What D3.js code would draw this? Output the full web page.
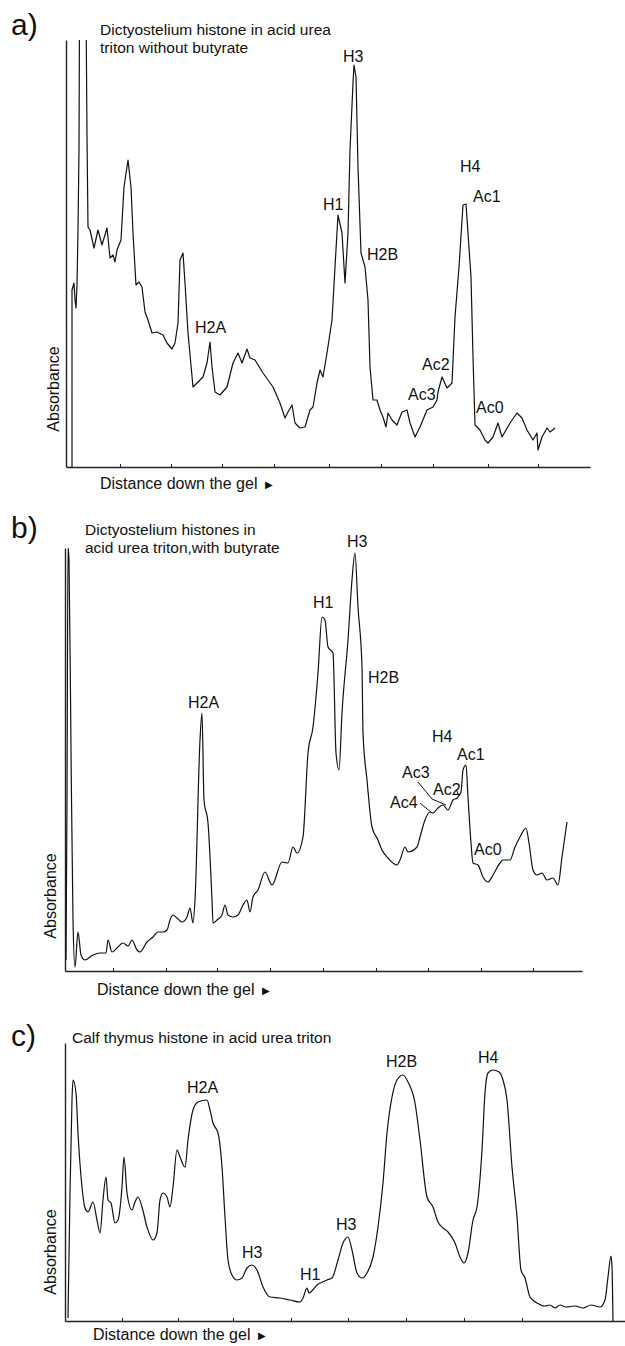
<!DOCTYPE html>
<html>
<head>
<meta charset="utf-8">
<script src="https://cdn.jsdelivr.net/npm/d3@7"></script>
<style>
  body { margin: 0; background: #fff; }
  svg text { font-family: "Liberation Sans", Arial, sans-serif; fill: #111; }
</style>
</head>
<body>
<svg class="canvas" width="625" height="1346"></svg>
<script>
// densitometer scans, distance / absorbance in arbitrary units
const distA = [6,6,8,9,10,11,12,13,14,19,21,22,24,28,32,36,41,44,47,49,51,55,58,62,65,67,70,73,76,79,82,86,91,97,101,106,109,112,114,117,119,122,127,131,137,141,144,146,149,154,161,167,172,176,181,184,189,197,207,214,219,222,226,229,234,239,244,247,251,254,257,261,266,269,272,276,279,282,284,287,288,290,292,295,299,302,304,307,311,314,317,320,322,326,331,336,341,344,349,354,361,367,371,372,376,381,386,389,393,397,400,402,405,407,409,414,419,422,427,432,436,444,451,456,461,467,471,472,476,481,484,489];
const absA = [0,177,184,167,159,182,237,317,600,600,330,240,237,219,237,222,239,209,212,205,217,227,280,307,280,234,182,185,180,155,147,134,135,132,124,118,124,144,207,214,184,134,80,84,90,104,125,100,75,72,80,104,114,104,118,109,107,94,80,64,49,55,62,44,39,40,57,60,84,97,90,114,147,200,252,234,184,234,317,384,402,390,300,214,200,167,100,67,67,57,50,40,54,47,42,55,57,44,30,40,57,60,67,75,90,79,84,150,200,262,263,234,190,110,42,37,27,24,30,44,30,44,54,49,37,27,34,17,30,39,35,39];

const distB = [1,2,3,4,6,8,10,13,16,20,28,35,41,43,47,52,58,63,67,72,75,82,88,93,98,102,105,108,112,117,122,125,128,130,135,137,139,143,147,148,152,157,160,163,168,173,178,182,185,188,193,200,207,217,223,228,232,238,243,248,253,257,260,263,268,271,274,277,283,287,290,293,297,298,302,307,313,317,323,332,335,340,343,352,355,360,365,368,373,378,383,388,392,396,398,401,403,406,408,413,418,423,428,435,438,445,450,455,461,464,468,472,477,482,488,493,497,502];
const absB = [11,171,424,411,221,51,4,39,16,11,16,18,18,31,19,23,28,25,31,21,19,29,34,39,39,41,51,56,53,49,54,63,48,71,231,258,171,148,71,48,51,56,66,56,54,56,66,71,59,74,81,99,86,109,108,124,118,134,218,244,298,354,351,324,318,218,201,258,331,391,418,364,304,238,191,144,131,121,113,106,111,124,119,124,134,151,159,158,163,166,161,171,173,179,201,206,174,128,108,106,94,89,96,108,111,111,124,134,143,128,101,96,98,91,93,86,114,149];

const distC = [3,5,7,8,11,13,17,20,23,28,32,35,38,41,43,46,50,53,57,59,62,67,70,73,77,82,88,92,95,98,102,105,108,112,115,120,123,128,133,142,145,148,153,157,160,163,167,172,177,182,187,192,198,205,215,225,235,238,242,244,252,262,267,273,278,283,287,292,297,302,308,313,318,322,327,332,338,343,350,355,362,368,373,378,383,390,395,399,403,408,412,417,420,423,428,434,438,442,447,452,456,460,465,472,480,485,490,495,501,510,518,526,535,540,543,546,547,548];
const absC = [3,128,221,241,228,188,134,113,109,119,101,88,121,144,121,118,98,101,134,164,128,111,119,124,114,94,81,88,121,128,124,114,134,171,164,154,181,211,219,221,211,198,188,154,104,61,46,41,43,53,56,51,34,24,23,21,19,23,33,28,36,41,43,61,78,84,71,48,43,48,64,94,138,188,224,241,246,239,218,181,124,114,99,93,89,78,64,58,68,101,114,171,228,248,251,249,241,221,154,104,51,43,24,18,15,16,13,16,14,15,13,16,14,21,44,65,54,0];

const ticksA = [54,105,156,208,263,315,367,422,472];
const ticksB = [48,101,152,205,258,311,363,416,468];
const ticksC = [57,113,168,226,283,341,399,457];

// peak labels
const labTextA = ["H2A","H1","H3","H2B","H4","Ac1","Ac2","Ac3","Ac0"];
const labDistA = [129,257,277,301,394,407,356,342,410];
const labAbsA = [134,257,405,207,295,265,97,67,54];

const labTextB = ["H2A","H1","H3","H2B","H4","Ac1","Ac3","Ac2","Ac4","Ac0"];
const labDistB = [123,248,282,303,367,392,337,368,325,409];
const labAbsB = [263,363,424,288,229,211,193,176,163,116];
// leader lines from the acetylated bands to the trace
const leadersB = [
  [[353,189],[367,172],[381,166]],
  [[355,168],[367,158]],
  [[391,182],[394,175]]
];

const labTextC = ["H2A","H3","H1","H3","H2B","H4"];
const labDistC = [122,177,235,271,321,413];
const labAbsC = [228,63,41,91,254,258];

const svg = d3.select(".canvas");
svg.append("rect").attr("width", 625).attr("height", 1346).attr("fill", "#fff");

const panels = [
  {
    id: "a", letter: "a)", letterY: 35, curve: d3.curveLinear,
    title: ["Dictyostelium histone in acid urea", "triton without butyrate"], titleX: 100, titleY: [35, 53],
    left: 66, right: 590, top: 40, bottom: 467, xMax: 524, yMax: 427,
    dist: distA, abs: absA, ticks: ticksA,
    labText: labTextA, labDist: labDistA, labAbs: labAbsA, leaders: [],
    absX: 59, absY: 389, gelX: 100, gelY: 489
  },
  {
    id: "b", letter: "b)", letterY: 538, curve: d3.curveMonotoneX,
    title: ["Dictyostelium histones in", "acid urea triton,with butyrate"], titleX: 85, titleY: [535, 553],
    left: 65, right: 582, top: 548, bottom: 971, xMax: 517, yMax: 423,
    dist: distB, abs: absB, ticks: ticksB,
    labText: labTextB, labDist: labDistB, labAbs: labAbsB, leaders: leadersB,
    absX: 56, absY: 896, gelX: 97, gelY: 995
  },
  {
    id: "c", letter: "c)", letterY: 1046, curve: d3.curveMonotoneX,
    title: ["Calf  thymus histone in acid urea triton"], titleX: 72, titleY: [1043],
    left: 65, right: 625, top: 1043, bottom: 1321, xMax: 560, yMax: 278,
    dist: distC, abs: absC, ticks: ticksC,
    labText: labTextC, labDist: labDistC, labAbs: labAbsC, leaders: [],
    absX: 56, absY: 1252, gelX: 93, gelY: 1340
  }
];

panels.forEach((p) => {
  const x = d3.scaleLinear().domain([0, p.xMax]).range([p.left, p.right]);
  const y = d3.scaleLinear().domain([0, p.yMax]).range([p.bottom, p.top]);
  const g = svg.append("g");

  svg.append("clipPath").attr("id", "clip-" + p.id)
    .append("rect")
    .attr("x", p.left - 10).attr("y", p.top)
    .attr("width", p.right - p.left + 20).attr("height", p.bottom - p.top + 2);

  // axes
  const xAxis = d3.axisBottom(x).tickValues(p.ticks).tickSize(-3).tickSizeOuter(0).tickFormat("");
  const yAxis = d3.axisLeft(y).tickValues([]).tickSizeOuter(0);
  const xg = g.append("g").attr("transform", `translate(0,${p.bottom})`).call(xAxis);
  const yg = g.append("g").attr("transform", `translate(${p.left},0)`).call(yAxis);
  [xg, yg].forEach((ax) => {
    ax.select(".domain").attr("stroke", "#222").attr("stroke-width", 1.4);
    ax.selectAll(".tick line").attr("stroke", "#222").attr("stroke-width", 1);
  });

  // trace
  const pts = p.dist.map((d, i) => [d, p.abs[i]]);
  const line = d3.line().x((d) => x(d[0])).y((d) => y(d[1]));
  g.append("path")
    .datum(pts)
    .attr("clip-path", `url(#clip-${p.id})`)
    .attr("d", line.curve(p.curve))
    .attr("fill", "none")
    .attr("stroke", "#111")
    .attr("stroke-width", 1.2)
    .attr("stroke-linejoin", "round");

  line.curve(d3.curveLinear);
  p.leaders.forEach((l) => {
    g.append("path").datum(l).attr("d", line)
      .attr("fill", "none").attr("stroke", "#111").attr("stroke-width", 1);
  });

  // peak labels
  g.selectAll(".peak")
    .data(p.labText)
    .enter()
    .append("text")
    .attr("class", "peak")
    .attr("x", (d, i) => x(p.labDist[i]))
    .attr("y", (d, i) => y(p.labAbs[i]))
    .attr("font-size", 16)
    .text((d) => d);

  // panel letter and title
  g.append("text").attr("x", 11).attr("y", p.letterY).attr("font-size", 30).text(p.letter);
  g.selectAll(".title")
    .data(p.title)
    .enter()
    .append("text")
    .attr("class", "title")
    .attr("x", p.titleX)
    .attr("y", (d, i) => p.titleY[i])
    .attr("font-size", 15.5)
    .text((d) => d);

  g.append("text")
    .attr("transform", `translate(${p.absX},${p.absY}) rotate(-90)`)
    .attr("text-anchor", "middle")
    .attr("font-size", 16)
    .text("Absorbance");

  const gel = g.append("text").attr("x", p.gelX).attr("y", p.gelY).attr("font-size", 16);
  gel.append("tspan").text("Distance down the gel ");
  gel.append("tspan").attr("font-size", 10).attr("dx", 3).attr("dy", -1).text("▶");
});
</script>
</body>
</html>
